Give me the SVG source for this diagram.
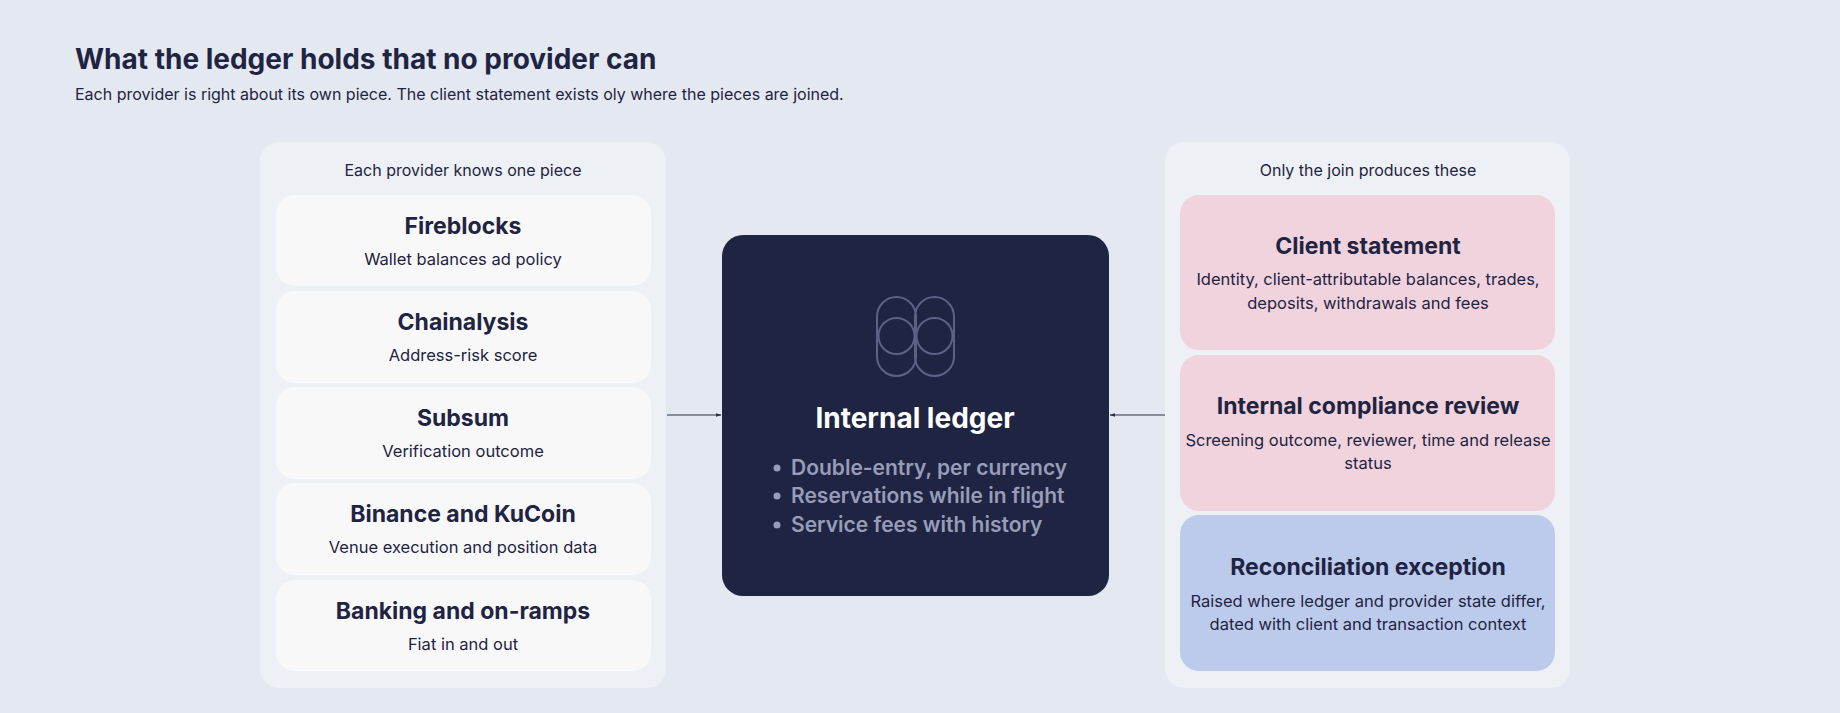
<svg xmlns="http://www.w3.org/2000/svg" width="1840" height="713" viewBox="0 0 1840 713">
<defs>
<style>
text{font-family:Inter,"Noto Sans",sans-serif;fill:#1f2442}
.t{font-size:28px;font-weight:700}
.sub{font-size:16px}
.ph{font-size:16px;text-anchor:middle}
.ct{font-size:23px;font-weight:700;text-anchor:middle}
.cd{font-size:16.5px;text-anchor:middle}
.panel{fill:#edf0f5}
.card{fill:#f8f8f9}
.pink{fill:#f0d3dc}
.blue{fill:#bccbec}
.bl{font-size:21px;font-weight:600;fill:#979db8}
.ic{fill:none;stroke:#5b6283;stroke-width:2}
</style>
<marker id="ah" viewBox="0 0 10 10" refX="9" refY="5" markerWidth="6" markerHeight="6" orient="auto-start-reverse"><path d="M0,2 L10,5 L0,8 z" fill="#2a2f4a"/></marker>
</defs>
<rect width="1840" height="713" fill="#e4e8f1"/>
<text class="t" x="75" y="69">What the ledger holds that no provider can</text>
<text class="sub" x="75" y="100">Each provider is right about its own piece. The client statement exists oly where the pieces are joined.</text>

<g id="left-panel">
<rect class="panel" x="260" y="142" width="406" height="546" rx="19"/>
<text class="ph" x="463" y="176">Each provider knows one piece</text>
</g>
<g id="fireblocks"><rect class="card" x="276" y="195" width="375" height="91" rx="19"/><text class="ct" x="463" y="234">Fireblocks</text><text class="cd" x="463" y="265">Wallet balances ad policy</text></g>
<g id="chainalysis"><rect class="card" x="276" y="291" width="375" height="92" rx="19"/><text class="ct" x="463" y="330">Chainalysis</text><text class="cd" x="463" y="361">Address-risk score</text></g>
<g id="subsum"><rect class="card" x="276" y="387" width="375" height="92" rx="19"/><text class="ct" x="463" y="426">Subsum</text><text class="cd" x="463" y="457">Verification outcome</text></g>
<g id="binance"><rect class="card" x="276" y="483" width="375" height="92" rx="19"/><text class="ct" x="463" y="522">Binance and KuCoin</text><text class="cd" x="463" y="553">Venue execution and position data</text></g>
<g id="banking"><rect class="card" x="276" y="580" width="375" height="91" rx="19"/><text class="ct" x="463" y="619">Banking and on-ramps</text><text class="cd" x="463" y="650">Fiat in and out</text></g>

<g id="ledger">
<rect x="722" y="235" width="387" height="361" rx="21" fill="#1f2442"/>
<rect class="ic" x="877" y="297" width="39" height="79" rx="19.5"/>
<rect class="ic" x="915" y="297" width="39" height="79" rx="19.5"/>
<circle class="ic" cx="896.5" cy="336" r="18"/>
<circle class="ic" cx="934.5" cy="336" r="18"/>
<text x="915" y="428" font-size="28" font-weight="700" text-anchor="middle" style="fill:#ffffff">Internal ledger</text>
<circle cx="777" cy="468" r="3.5" fill="#979db8"/><text class="bl" x="791" y="475">Double-entry, per currency</text>
<circle cx="777" cy="496" r="3.5" fill="#979db8"/><text class="bl" x="791" y="503">Reservations while in flight</text>
<circle cx="777" cy="525" r="3.5" fill="#979db8"/><text class="bl" x="791" y="532">Service fees with history</text>
</g>

<g id="right-panel">
<rect class="panel" x="1165" y="142" width="405" height="546" rx="19"/>
<text class="ph" x="1368" y="176">Only the join produces these</text>
</g>
<g id="client-statement"><rect class="pink" x="1180" y="195" width="375" height="155" rx="19"/><text class="ct" x="1368" y="254">Client statement</text><text class="cd" x="1368" y="285">Identity, client-attributable balances, trades,</text><text class="cd" x="1368" y="309">deposits, withdrawals and fees</text></g>
<g id="compliance"><rect class="pink" x="1180" y="355" width="375" height="156" rx="19"/><text class="ct" x="1368" y="414">Internal compliance review</text><text class="cd" x="1368" y="446">Screening outcome, reviewer, time and release</text><text class="cd" x="1368" y="469">status</text></g>
<g id="reconciliation"><rect class="blue" x="1180" y="515" width="375" height="156" rx="19"/><text class="ct" x="1368" y="575">Reconciliation exception</text><text class="cd" x="1368" y="607">Raised where ledger and provider state differ,</text><text class="cd" x="1368" y="630">dated with client and transaction context</text></g>

<g id="connectors" stroke="#2a2f4a" stroke-width="1" fill="none">
<line x1="667" y1="415" x2="721" y2="415" marker-end="url(#ah)"/>
<line x1="1165" y1="415" x2="1110" y2="415" marker-end="url(#ah)"/>
</g>
</svg>
